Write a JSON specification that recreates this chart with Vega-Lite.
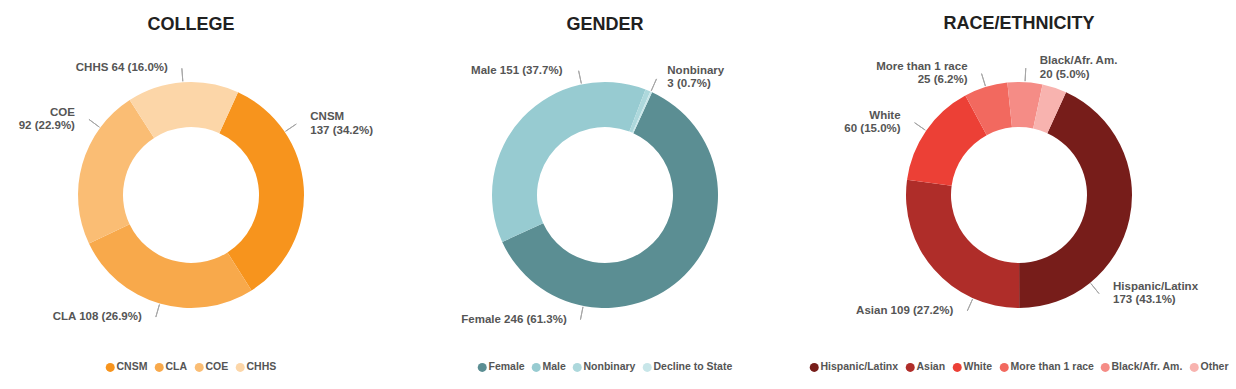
{
  "$schema": "https://vega.github.io/schema/vega-lite/v6.json",
  "background": "white",
  "padding": {"left": 0, "top": 14, "right": 0, "bottom": 0},
  "spacing": 32,
  "bounds": "flush",
  "datasets": {
    "college": [
      {"cat": "CNSM", "count": 137, "rank": 1, "label": "CNSM\n137 (34.2%)"},
      {"cat": "CLA", "count": 108, "rank": 2, "label": "CLA 108 (26.9%)"},
      {"cat": "COE", "count": 92, "rank": 3, "label": "COE\n92 (22.9%)"},
      {"cat": "CHHS", "count": 64, "rank": 4, "label": "CHHS 64 (16.0%)"}
    ],
    "gender": [
      {"cat": "Female", "count": 246, "rank": 1, "label": "Female 246 (61.3%)"},
      {"cat": "Male", "count": 151, "rank": 2, "label": "Male 151 (37.7%)"},
      {"cat": "Nonbinary", "count": 3, "rank": 3, "label": "Nonbinary\n3 (0.7%)"},
      {"cat": "Decline to State", "count": 1, "rank": 4, "label": ""}
    ],
    "race": [
      {"cat": "Hispanic/Latinx", "count": 173, "rank": 1, "label": "Hispanic/Latinx\n173 (43.1%)"},
      {"cat": "Asian", "count": 109, "rank": 2, "label": "Asian 109 (27.2%)"},
      {"cat": "White", "count": 60, "rank": 3, "label": "White\n60 (15.0%)"},
      {"cat": "More than 1 race", "count": 25, "rank": 4, "label": "More than 1 race\n25 (6.2%)"},
      {"cat": "Black/Afr. Am.", "count": 20, "rank": 5, "label": "Black/Afr. Am.\n20 (5.0%)"},
      {"cat": "Other", "count": 14, "rank": 6, "label": ""}
    ]
  },
  "hconcat": [
    {
      "title": {"text": "COLLEGE", "offset": 26.5},
      "width": 382,
      "height": 270,
      "data": {"name": "college"},
      "encoding": {
        "theta": {"field": "count", "type": "quantitative", "stack": true, "scale": {"range": [0.4294, 6.7126]}},
        "order": {"field": "rank", "type": "quantitative"}
      },
      "layer": [
        {
          "mark": {"type": "arc", "innerRadius": 68, "outerRadius": 113},
          "encoding": {
            "color": {
              "field": "cat", "type": "nominal",
              "scale": {"domain": ["CNSM", "CLA", "COE", "CHHS"], "range": ["#F7941D", "#F8A94B", "#FABD74", "#FCD6A8"]},
              "legend": {"title": null, "orient": "bottom", "direction": "horizontal", "offset": 32, "symbolType": "circle"}
            }
          }
        },
        {
          "mark": {"type": "arc", "innerRadius": 114, "outerRadius": 127, "padAngle": 3.14, "filled": false, "stroke": "#a6a6a6", "strokeWidth": 1,
            "thetaOffset": {"expr": "datum.cat === 'CNSM' ? -0.525 : datum.cat === 'COE' ? 0.361 : 0"}},
          "encoding": {
            "detail": {"field": "cat", "type": "nominal"},
            "strokeOpacity": {"condition": {"test": "datum.label === ''", "value": 0}, "value": 1}
          }
        },
        {
          "mark": {"type": "text", "radius": 127, "baseline": "middle", "lineBreak": "\n", "lineHeight": 13.5,
            "font": "Liberation Sans", "fontWeight": "bold", "fontSize": 11.5, "fill": "#555555",
            "thetaOffset": {"expr": "datum.cat === 'CNSM' ? -0.525 : datum.cat === 'COE' ? 0.361 : 0"},
            "align": {"expr": "indexof(['CLA','COE','CHHS'], datum.cat) >= 0 ? 'right' : 'left'"},
            "dx": {"expr": "indexof(['CLA','COE','CHHS'], datum.cat) >= 0 ? -14 : 14"},
            "dy": {"expr": "indexof(datum.label, '\\n') >= 0 ? -6.75 : 0"}},
          "encoding": {
            "detail": {"field": "cat", "type": "nominal"},
            "text": {"field": "label", "type": "nominal"}
          }
        }
      ]
    },
    {
      "title": {"text": "GENDER", "offset": 26.5},
      "width": 382,
      "height": 270,
      "data": {"name": "gender"},
      "encoding": {
        "theta": {"field": "count", "type": "quantitative", "stack": true, "scale": {"range": [0.4294, 6.7126]}},
        "order": {"field": "rank", "type": "quantitative"}
      },
      "layer": [
        {
          "mark": {"type": "arc", "innerRadius": 68, "outerRadius": 113},
          "encoding": {
            "color": {
              "field": "cat", "type": "nominal",
              "scale": {"domain": ["Female", "Male", "Nonbinary", "Decline to State"], "range": ["#5B8E93", "#97CBD1", "#ADD8DC", "#C8E6E9"]},
              "legend": {"title": null, "orient": "bottom", "direction": "horizontal", "offset": 32, "symbolType": "circle"}
            }
          }
        },
        {
          "transform": [
            {"fold": ["count", "count"], "as": ["k", "v"]},
            {"window": [{"op": "row_number", "as": "half"}], "groupby": ["cat"]}
          ],
          "mark": {"type": "arc", "innerRadius": 114, "outerRadius": 127, "padAngle": 3.14, "filled": false, "stroke": "#a6a6a6", "strokeWidth": 1},
          "encoding": {
            "theta": {"field": "v", "type": "quantitative", "stack": true, "scale": {"range": [0.4294, 6.7126]}},
            "order": [{"field": "rank", "type": "quantitative"}, {"field": "half", "type": "quantitative"}],
            "detail": [{"field": "cat", "type": "nominal"}, {"field": "half", "type": "quantitative"}],
            "strokeOpacity": {"condition": {"test": "datum.half === 2 && datum.label !== ''", "value": 1}, "value": 0}
          }
        },
        {
          "mark": {"type": "text", "radius": 127, "baseline": "middle", "lineBreak": "\n", "lineHeight": 13.5,
            "font": "Liberation Sans", "fontWeight": "bold", "fontSize": 11.5, "fill": "#555555",
            "thetaOffset": {"expr": "datum.cat === 'Female' ? 0.977 : datum.cat === 'Male' ? 0.59 : 0"},
            "align": {"expr": "indexof(['Female','Male'], datum.cat) >= 0 ? 'right' : 'left'"},
            "dx": {"expr": "indexof(['Female','Male'], datum.cat) >= 0 ? -14 : 14"},
            "dy": {"expr": "indexof(datum.label, '\\n') >= 0 ? -6.75 : 0"}},
          "encoding": {
            "detail": {"field": "cat", "type": "nominal"},
            "text": {"field": "label", "type": "nominal"}
          }
        }
      ],
      "resolve": {"scale": {"theta": "independent"}}
    },
    {
      "title": {"text": "RACE/ETHNICITY", "offset": 22.5},
      "width": 382,
      "height": 270,
      "data": {"name": "race"},
      "encoding": {
        "theta": {"field": "count", "type": "quantitative", "stack": true, "scale": {"range": [0.4294, 6.7126]}},
        "order": {"field": "rank", "type": "quantitative"}
      },
      "layer": [
        {
          "mark": {"type": "arc", "innerRadius": 68, "outerRadius": 113},
          "encoding": {
            "color": {
              "field": "cat", "type": "nominal",
              "scale": {"domain": ["Hispanic/Latinx", "Asian", "White", "More than 1 race", "Black/Afr. Am.", "Other"], "range": ["#771D1A", "#AF2D29", "#EC4036", "#F2695F", "#F58C86", "#F8B3AF"]},
              "legend": {"title": null, "orient": "bottom", "direction": "horizontal", "offset": 32, "symbolType": "circle"}
            }
          }
        },
        {
          "mark": {"type": "arc", "innerRadius": 114, "outerRadius": 127, "padAngle": 3.14, "filled": false, "stroke": "#a6a6a6", "strokeWidth": 1,
            "thetaOffset": {"expr": "datum.cat === 'Hispanic/Latinx' ? 0.675 : datum.cat === 'Asian' ? -0.433 : 0"}},
          "encoding": {
            "detail": {"field": "cat", "type": "nominal"},
            "strokeOpacity": {"condition": {"test": "datum.label === ''", "value": 0}, "value": 1}
          }
        },
        {
          "mark": {"type": "text", "radius": 127, "baseline": "middle", "lineBreak": "\n", "lineHeight": 13.5,
            "font": "Liberation Sans", "fontWeight": "bold", "fontSize": 11.5, "fill": "#555555",
            "thetaOffset": {"expr": "datum.cat === 'Hispanic/Latinx' ? 0.675 : datum.cat === 'Asian' ? -0.433 : 0"},
            "align": {"expr": "indexof(['Asian','White','More than 1 race'], datum.cat) >= 0 ? 'right' : 'left'"},
            "dx": {"expr": "indexof(['Asian','White','More than 1 race'], datum.cat) >= 0 ? -14 : 14"},
            "dy": {"expr": "indexof(datum.label, '\\n') >= 0 ? -6.75 : 0"}},
          "encoding": {
            "detail": {"field": "cat", "type": "nominal"},
            "text": {"field": "label", "type": "nominal"}
          }
        }
      ]
    }
  ],
  "resolve": {
    "scale": {"theta": "independent", "color": "independent"},
    "legend": {"color": "independent"}
  },
  "config": {
    "view": {"stroke": null},
    "title": {"font": "Liberation Sans", "fontSize": 18, "fontWeight": "bold", "color": "#212121", "anchor": "middle"},
    "legend": {
      "labelFont": "Liberation Sans", "labelFontSize": 10.5, "labelFontWeight": "bold", "labelColor": "#555555",
      "symbolSize": 81, "symbolStrokeWidth": 0, "labelOffset": 1, "columnPadding": 6,
      "layout": {"bottom": {"anchor": "middle"}}
    }
  }
}
